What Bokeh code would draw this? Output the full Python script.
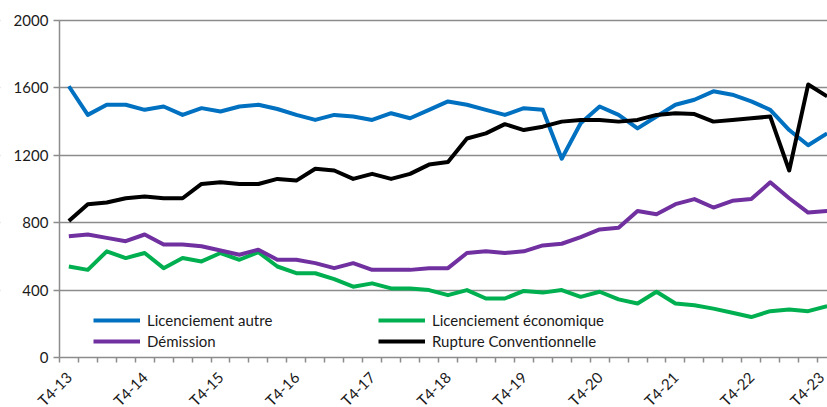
from math import pi
from bokeh.plotting import figure
from bokeh.models import (Range1d, FixedTicker, Legend, LegendItem,
                          ColumnDataSource, BoxAnnotation)
from bokeh.embed import file_html
from bokeh.resources import INLINE

tick_labels = ["T4-13", "T4-14", "T4-15", "T4-16", "T4-17", "T4-18",
               "T4-19", "T4-20", "T4-21", "T4-22", "T4-23"]

autre = [1610, 1440, 1500, 1500, 1470, 1490, 1440, 1480, 1460, 1490, 1500,
         1475, 1440, 1410, 1440, 1430, 1410, 1450, 1420, 1470, 1520, 1500,
         1470, 1440, 1480, 1470, 1180, 1390, 1490, 1440, 1360, 1430, 1500,
         1530, 1580, 1560, 1520, 1470, 1350, 1260, 1330]

economique = [540, 520, 630, 590, 620, 530, 590, 570, 620, 580, 625,
              540, 500, 500, 465, 420, 440, 410, 410, 400, 370, 400,
              350, 350, 395, 385, 400, 360, 390, 345, 320, 390, 320,
              310, 290, 265, 240, 275, 285, 275, 305]

demission = [720, 730, 710, 690, 730, 670, 670, 660, 635, 610, 640,
             580, 580, 560, 530, 560, 520, 520, 520, 530, 530, 620,
             630, 620, 630, 665, 675, 715, 760, 770, 870, 850, 910,
             940, 890, 930, 940, 1040, 945, 860, 870]

rupture = [810, 910, 920, 945, 955, 945, 945, 1030, 1040, 1030, 1030,
           1060, 1050, 1120, 1110, 1060, 1090, 1060, 1090, 1145, 1160, 1300,
           1330, 1385, 1350, 1370, 1400, 1410, 1410, 1400, 1410, 1440, 1450,
           1445, 1400, 1410, 1420, 1430, 1110, 1620, 1550]

x = list(range(len(autre)))
source = ColumnDataSource(dict(x=x, autre=autre, economique=economique,
                               demission=demission, rupture=rupture))

label_pos = [4 * i for i in range(len(tick_labels))]
x_lo = -0.5                   # left edge of the first category
x_hi = len(autre) - 0.5       # right edge of the last category

FONT = "Lato"
GRID = "#8c8c8c"
TEXT = "#1a1a1a"

p = figure(width=827, height=407, output_backend="svg", toolbar_location=None,
           x_range=Range1d(-3.605, 40.02), y_range=Range1d(-297, 2119),
           min_border_left=0, min_border_right=0, min_border_top=0,
           min_border_bottom=0)
p.outline_line_color = None
p.background_fill_color = "white"
p.border_fill_color = "white"

# grid
p.xgrid.grid_line_color = None
p.ygrid.ticker = FixedTicker(ticks=[400, 800, 1200, 1600, 2000])
p.ygrid.grid_line_color = GRID
p.ygrid.grid_line_width = 1.5

# blank the area left of the value axis (grid lines start at the axis)
mask = BoxAnnotation(right=x_lo, fill_color="white", fill_alpha=1,
                     line_alpha=0, level="underlay")
p.add_layout(mask)

# y axis, drawn at the left edge of the first category
p.yaxis.fixed_location = x_lo
p.yaxis.ticker = FixedTicker(ticks=[0, 400, 800, 1200, 1600, 2000])
p.yaxis.bounds = (0, 2000)
p.yaxis.axis_line_color = GRID
p.yaxis.axis_line_width = 1.5
p.yaxis.major_tick_line_color = GRID
p.yaxis.major_tick_line_width = 1.5
p.yaxis.major_tick_out = 6
p.yaxis.major_tick_in = 0
p.yaxis.minor_tick_line_color = None
p.yaxis.major_label_standoff = 5
p.yaxis.major_label_text_font = FONT
p.yaxis.major_label_text_font_size = "15px"
p.yaxis.major_label_text_color = TEXT

# x axis drawn at value 0: category boundary ticks, rotated labels every 4 quarters
bounds = [i - 0.5 for i in range(len(x) + 1)]
p.xaxis.fixed_location = 0
p.xaxis.bounds = (x_lo, x_hi)
p.xaxis.ticker = FixedTicker(ticks=label_pos, minor_ticks=bounds)
p.xaxis.major_label_overrides = {pos: lab for pos, lab in zip(label_pos, tick_labels)}
p.xaxis.major_label_orientation = pi / 4
p.xaxis.axis_line_color = GRID
p.xaxis.axis_line_width = 1.5
p.xaxis.major_tick_line_color = None
p.xaxis.major_tick_out = 0
p.xaxis.major_tick_in = 0
p.xaxis.minor_tick_line_color = GRID
p.xaxis.minor_tick_line_width = 1.5
p.xaxis.minor_tick_out = 5
p.xaxis.minor_tick_in = 0
p.xaxis.major_label_standoff = 12
p.xaxis.major_label_text_font = FONT
p.xaxis.major_label_text_font_size = "15px"
p.xaxis.major_label_text_color = TEXT

r_autre = p.line("x", "autre", source=source, line_color="#0070C0", line_width=4, line_join="round")
r_eco = p.line("x", "economique", source=source, line_color="#00B050", line_width=4, line_join="round")
r_dem = p.line("x", "demission", source=source, line_color="#7030A0", line_width=4, line_join="round")
r_rup = p.line("x", "rupture", source=source, line_color="#000000", line_width=4, line_join="round")

def make_legend(items, loc):
    lg = Legend(items=items, location=loc, orientation="vertical")
    lg.background_fill_alpha = 0
    lg.border_line_color = None
    lg.padding = 0
    lg.margin = 0
    lg.spacing = 1
    lg.label_height = 20
    lg.glyph_height = 20
    lg.glyph_width = 47
    lg.label_standoff = 7
    lg.label_text_font = FONT
    lg.label_text_font_size = "15px"
    lg.label_text_color = TEXT
    return lg

p.add_layout(make_legend([LegendItem(label="Licenciement autre", renderers=[r_autre]),
                          LegendItem(label="Démission", renderers=[r_dem])], (93, 56)))
p.add_layout(make_legend([LegendItem(label="Licenciement économique", renderers=[r_eco]),
                          LegendItem(label="Rupture Conventionnelle", renderers=[r_rup])], (378, 56)))

open("out.html", "w").write(file_html(p, INLINE))
